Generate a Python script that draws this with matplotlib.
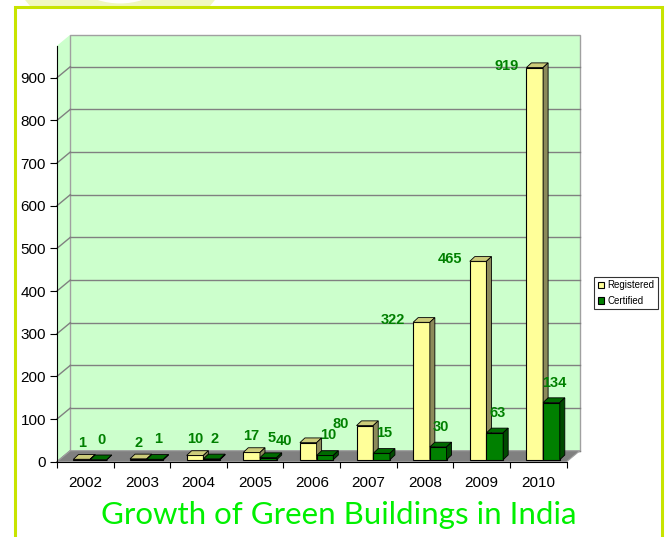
import matplotlib
matplotlib.use('Agg')
import matplotlib.pyplot as plt
from matplotlib.patches import Polygon, Rectangle, Wedge

# data
years = ['2002', '2003', '2004', '2005', '2006', '2007', '2008', '2009', '2010']
registered = [1, 2, 10, 17, 40, 80, 322, 465, 919]
certified = [0, 1, 2, 5, 10, 15, 30, 63, 134]
series_names = ['Registered', 'Certified']
y_ticks = [0, 100, 200, 300, 400, 500, 600, 700, 800, 900]
title = 'Growth of Green Buildings in India'

plt.rcParams['font.family'] = ['Liberation Sans', 'DejaVu Sans']

W, H = 665, 537
fig = plt.figure(figsize=(W / 100, H / 100), dpi=100)
fig.patch.set_facecolor('white')

# decorative pale ring at the top and the yellow-green frame
ring = Wedge((120 / W, 1 + 45 / H), 110 / W, 180, 360, width=50 / W,
             transform=fig.transFigure, facecolor='#F0F8C0', edgecolor='none', zorder=0)
fig.patches.append(ring)
frame = Rectangle((15 / W, -0.05), 647 / W, 1.05 - 7 / H, transform=fig.transFigure,
                  facecolor='white', edgecolor='#C8E400', linewidth=2.2, zorder=1)
fig.patches.append(frame)

# plot area in pixels
ax_l, ax_r = 57, 566.6
ax_b, ax_t = 461.7, 45.7
ymax = 975
ax = fig.add_axes([ax_l / W, 1 - ax_b / H, (ax_r - ax_l) / W, (ax_b - ax_t) / H])
ax.set_zorder(2)
ax.patch.set_visible(False)
n = len(years)
ax.set_xlim(0, n)
ax.set_ylim(0, ymax)

ux = n / (ax_r - ax_l)      # data units per pixel
uy = ymax / (ax_b - ax_t)

# 3d walls
wdx, wdy = 13.3 * ux, 11 * uy
side = Polygon([(0, 0), (0, ymax), (wdx, ymax + wdy), (wdx, wdy)],
               facecolor='#CCFFCC', edgecolor='none', zorder=0, clip_on=False)
ax.add_patch(side)
back = Rectangle((wdx, wdy), n, ymax, facecolor='#CCFFCC', edgecolor='#A0A0A0',
                 linewidth=1, zorder=0, clip_on=False)
ax.add_patch(back)
for t in y_ticks:
    ax.plot([wdx, n + wdx], [t + wdy, t + wdy], color='#808080', lw=1, zorder=0.5, clip_on=False)
    ax.plot([0, wdx], [t, t + wdy], color='#808080', lw=1, zorder=0.5, clip_on=False)
floor = Polygon([(0, 0), (n, 0), (n + wdx, wdy), (wdx, wdy)],
                facecolor='#808080', edgecolor='#A0A0A0', linewidth=0.8, zorder=1, clip_on=False)
ax.add_patch(floor)

# bars
a, w = 0.29, 0.295
bdx, bdy = 5 * ux, 4.7 * uy
y0 = 2 * uy
styles = [('#FFFF99', '#CCCC7A', '#8C8A5A'), ('#008000', '#006A00', '#004A00')]
series = [registered, certified]
xs = [[i + a for i in range(n)], [i + a + w for i in range(n)]]

handles = []
for i in range(n):
    for s in range(2):
        x0 = xs[s][i]
        v = series[s][i]
        front, topc, sidec = styles[s]
        z = 3 + i * 0.1 + s * 0.05
        b = ax.bar([x0], [v], w, bottom=y0, align='edge', color=front,
                   edgecolor='black', linewidth=0.8, zorder=z, clip_on=False)
        if i == 0:
            handles.append(b)
        ax.add_patch(Polygon([(x0, y0 + v), (x0 + w, y0 + v), (x0 + w + bdx, y0 + v + bdy),
                              (x0 + bdx, y0 + v + bdy)], facecolor=topc, edgecolor='black',
                             linewidth=0.6, zorder=z, clip_on=False))
        ax.add_patch(Polygon([(x0 + w, y0), (x0 + w + bdx, y0 + bdy), (x0 + w + bdx, y0 + v + bdy),
                              (x0 + w, y0 + v)], facecolor=sidec, edgecolor='black',
                             linewidth=0.6, zorder=z, clip_on=False))

# value labels
pt = 0.72
lab_kw = dict(textcoords='offset points', color='#008000', fontsize=10.5,
              fontweight='bold', va='center', zorder=10, annotation_clip=False)
for i in range(n):
    v = registered[i]
    xc = xs[0][i] + w / 2
    if v >= 30:
        ax.annotate(str(v), xy=(xc, y0 + v), xytext=(-16 * pt, 2 * pt), ha='right', **lab_kw)
    else:
        ax.annotate(str(v), xy=(xc, y0 + v), xytext=(0, 16 * pt), ha='center', **lab_kw)
    v = certified[i]
    xc = xs[1][i] + w / 2
    ax.annotate(str(v), xy=(xc, y0 + v), xytext=(3 * pt, 20 * pt), ha='center', **lab_kw)

# axes
for sp in ['top', 'right']:
    ax.spines[sp].set_visible(False)
ax.spines['left'].set_color('black')
ax.spines['bottom'].set_color('black')
ax.spines['left'].set_zorder(5)
ax.spines['bottom'].set_zorder(5)
ax.set_yticks(y_ticks)
ax.set_yticklabels([str(t) for t in y_ticks])
ax.tick_params(axis='y', length=5, width=0.8, pad=3, labelsize=11)
ax.set_xticks(range(n + 1))
ax.set_xticklabels([])
ax.set_xticks([i + 0.5 for i in range(n)], minor=True)
ax.set_xticklabels(years, minor=True)
ax.tick_params(axis='x', which='major', length=4, width=0.8)
ax.tick_params(axis='x', which='minor', length=0, pad=10, labelsize=11)

leg = fig.legend([h[0] for h in handles], series_names, loc='center',
                 bbox_to_anchor=(626 / W, 1 - 293 / H), fontsize=7, frameon=True,
                 fancybox=False, edgecolor='black', handlelength=0.7, handleheight=0.7,
                 borderpad=0.35, labelspacing=0.55, handletextpad=0.3, borderaxespad=0)
leg.get_frame().set_linewidth(0.8)
leg.set_zorder(5)

fig.text(339 / W, 1 - 515 / H, title, color='#00F000', fontsize=22.5, ha='center', va='center',
         family=['Lato', 'DejaVu Sans'], zorder=5)

fig.savefig('out.png', dpi=100)
